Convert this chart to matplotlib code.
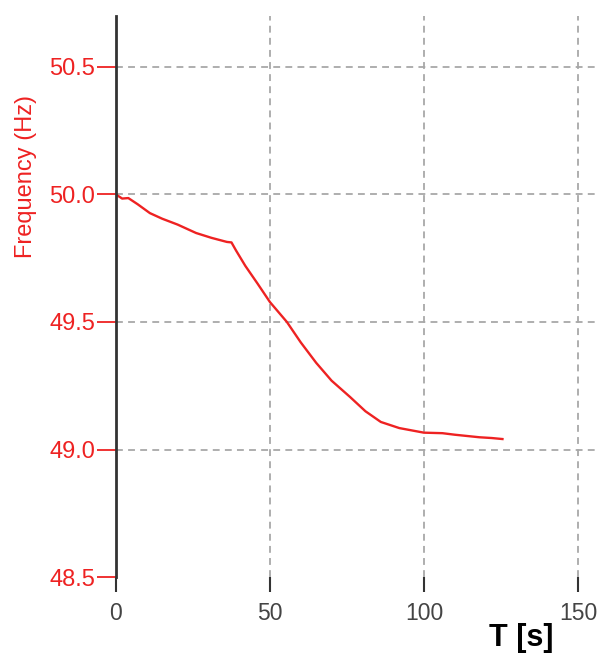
import numpy as np
import matplotlib.pyplot as plt

# === 数据 ===
t = [0, 2, 4, 7, 11, 15, 20, 26, 31, 36, 37.5, 39, 42, 46, 50, 55.5, 60, 65,
     70, 76, 81, 86, 92, 100, 106, 110, 114, 118, 122, 125.5]
freq = [50.0, 49.984, 49.986, 49.962, 49.927, 49.905, 49.882, 49.849, 49.83, 49.814,
        49.812, 49.78, 49.72, 49.65, 49.578, 49.50, 49.42, 49.34, 49.27, 49.206,
        49.15, 49.108, 49.084, 49.066, 49.064, 49.058, 49.053, 49.048, 49.045, 49.041]
xticks = [0, 50, 100, 150]
yticks = [48.5, 49.0, 49.5, 50.0, 50.5]

plt.rcParams['font.family'] = ['Liberation Sans', 'DejaVu Sans']

fig = plt.figure(figsize=(5.97, 6.63), dpi=100)
ax = fig.add_axes([0.1943, 0.1297, 0.8057, 0.8462])

ax.plot(t, freq, color='#ee2222', lw=1.7)

ax.set_xlim(0, 156.2)
ax.set_ylim(48.5, 50.7)
ax.set_xticks(xticks)
ax.set_yticks(yticks)
ax.set_yticklabels([f"{v:.1f}" for v in yticks])

# === 网格 ===
ax.grid(True, color='#a8a8a8', linestyle=(0, (3.8, 2.9)), lw=1.3)
ax.yaxis.get_gridlines()[0].set_visible(False)
ax.xaxis.get_gridlines()[0].set_visible(False)

for s in ['top', 'right', 'bottom']:
    ax.spines[s].set_visible(False)
ax.spines['left'].set_color('#333333')
ax.spines['left'].set_linewidth(2)

ax.tick_params(axis='y', colors='#ee2222', labelsize=17, length=14, width=1.3, pad=1)
ax.tick_params(axis='x', colors='#333333', labelcolor='#444444', labelsize=16.5,
               length=11, width=1.5, pad=7)

fig.text(0.0436, 0.734, "Frequency (Hz)", rotation=90, ha='center', va='center',
         color='#ee2222', fontsize=17)
fig.text(0.873, 0.037, "T [s]", ha='center', va='center', fontsize=22,
         fontweight='bold', color='black')

plt.savefig("out.png", dpi=100)
plt.close()
